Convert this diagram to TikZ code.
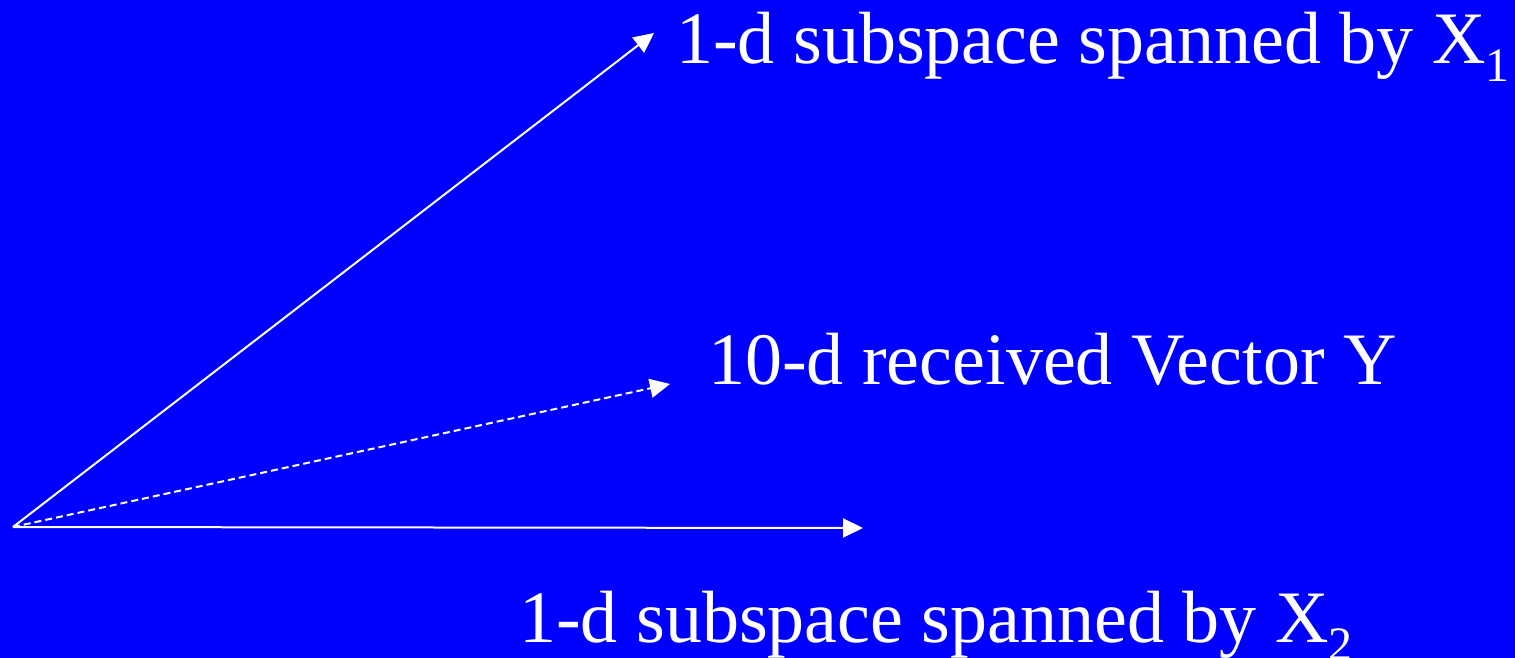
\documentclass[tikz,border=0pt]{standalone}
\usepackage{fontspec}
\setmainfont{Liberation Serif}
\usetikzlibrary{arrows.meta}
\definecolor{bgblue}{RGB}{0,0,255}
\newcommand{\subsc}[1]{\raisebox{-18pt}{\fontsize{48}{48}\selectfont #1}}
\begin{document}
\begin{tikzpicture}[x=1pt,y=-1pt,
  lbl/.style={anchor=base west,inner sep=0pt,text=white,font=\fontsize{74}{80}\selectfont},
  vec/.style={draw=white,line width=2pt,-{Triangle[length=20pt,width=19pt]}},
  shorten >=0pt]
\fill[bgblue] (0,0) rectangle (1515,658);
\useasboundingbox (0,0) rectangle (1515,658);
\coordinate (O) at (13,527);
\coordinate (A) at (654,33);
\coordinate (B) at (670,384);
\coordinate (C) at (863,528);
\node[lbl] (t1) at (676,64) {1-d subspace spanned by X\subsc{1}};
\node[lbl] (t2) at (708,384) {10-d received Vector Y};
\node[lbl] (t3) at (519,642) {1-d subspace spanned by X\subsc{2}};
\draw[vec] (O) -- (A);
\draw[vec,dash pattern=on 7pt off 4pt] (O) -- (B);
\draw[vec] (O) -- (C);
\end{tikzpicture}
\end{document}
